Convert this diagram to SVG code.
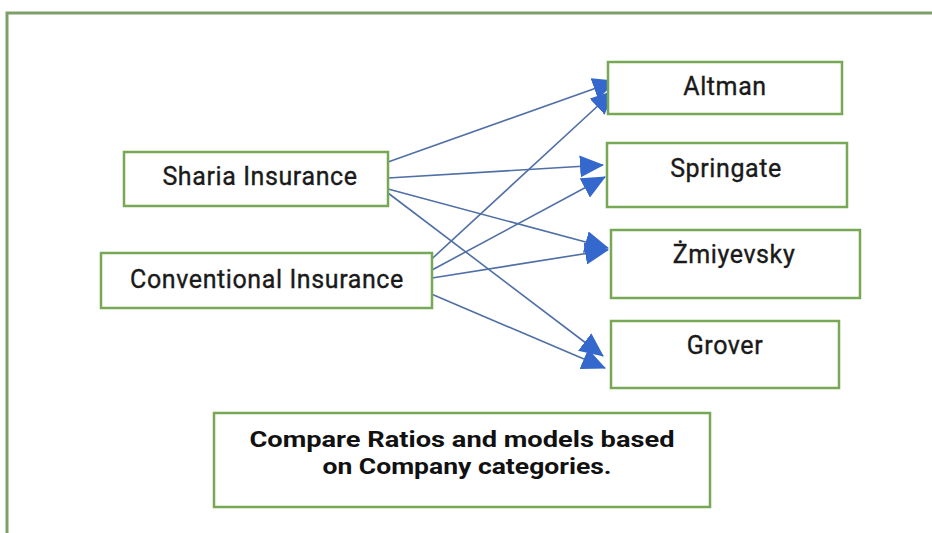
<svg xmlns="http://www.w3.org/2000/svg" width="932" height="533" viewBox="0 0 932 533">
  <style>
    .box { fill: #ffffff; stroke: #77a856; stroke-width: 2.5; }
    .frame { fill: none; stroke: #7f9f68; stroke-width: 3; }
    .lbl { font-family: Roboto, "Liberation Sans", sans-serif; font-size: 25px; letter-spacing: 0.6px; fill: #1a1a1a; stroke: #1a1a1a; stroke-width: 0.35; text-anchor: middle; }
    .bold { font-size: 22px; letter-spacing: 0; font-weight: bold; fill: #111111; stroke: none; }
    .link { stroke: #4f6fa6; stroke-width: 1.6; fill: none; marker-end: url(#head); }
  </style>
  <defs>
    <marker id="head" markerUnits="userSpaceOnUse" markerWidth="26" markerHeight="22" refX="23" refY="11" orient="auto">
      <path d="M0,0 L24,11 L0,22 z" fill="#3468cc"/>
    </marker>
  </defs>

  <rect width="932" height="533" fill="#ffffff"/>
  <!-- outer frame: top and left edges only -->
  <path class="frame" d="M7,533 L7,13 L932,13"/>

  <g id="connectors">
    <line class="link" x1="388" y1="162" x2="616" y2="81"/>
    <line class="link" x1="388" y1="178" x2="603" y2="165"/>
    <line class="link" x1="388" y1="189" x2="608" y2="248"/>
    <line class="link" x1="388" y1="193" x2="603" y2="356"/>
    <line class="link" x1="423" y1="267" x2="614" y2="91"/>
    <line class="link" x1="432" y1="270" x2="605" y2="177"/>
    <line class="link" x1="432" y1="278" x2="608" y2="250"/>
    <line class="link" x1="429" y1="293" x2="605" y2="368"/>
  </g>

  <g id="sharia">
    <rect class="box" x="124" y="152" width="264" height="54"/>
    <text class="lbl" x="260" y="185">Sharia Insurance</text>
  </g>
  <g id="conventional">
    <rect class="box" x="101" y="253" width="331" height="55"/>
    <text class="lbl" x="267" y="288">Conventional Insurance</text>
  </g>
  <g id="altman">
    <rect class="box" x="608" y="62" width="234" height="52"/>
    <text class="lbl" x="725" y="95">Altman</text>
  </g>
  <g id="springate">
    <rect class="box" x="607" y="143" width="240" height="64"/>
    <text class="lbl" x="726" y="177">Springate</text>
  </g>
  <g id="zmiyevsky">
    <rect class="box" x="611" y="230" width="249" height="68"/>
    <text class="lbl" x="734" y="263">Żmiyevsky</text>
  </g>
  <g id="grover">
    <rect class="box" x="611" y="321" width="228" height="67"/>
    <text class="lbl" x="725" y="354">Grover</text>
  </g>
  <g id="note">
    <rect class="box" x="214" y="413" width="496" height="94"/>
    <text class="lbl bold" x="462" y="447" textLength="425" lengthAdjust="spacingAndGlyphs">Compare Ratios and models based</text>
    <text class="lbl bold" x="467" y="474" textLength="289" lengthAdjust="spacingAndGlyphs">on Company categories.</text>
  </g>
</svg>
